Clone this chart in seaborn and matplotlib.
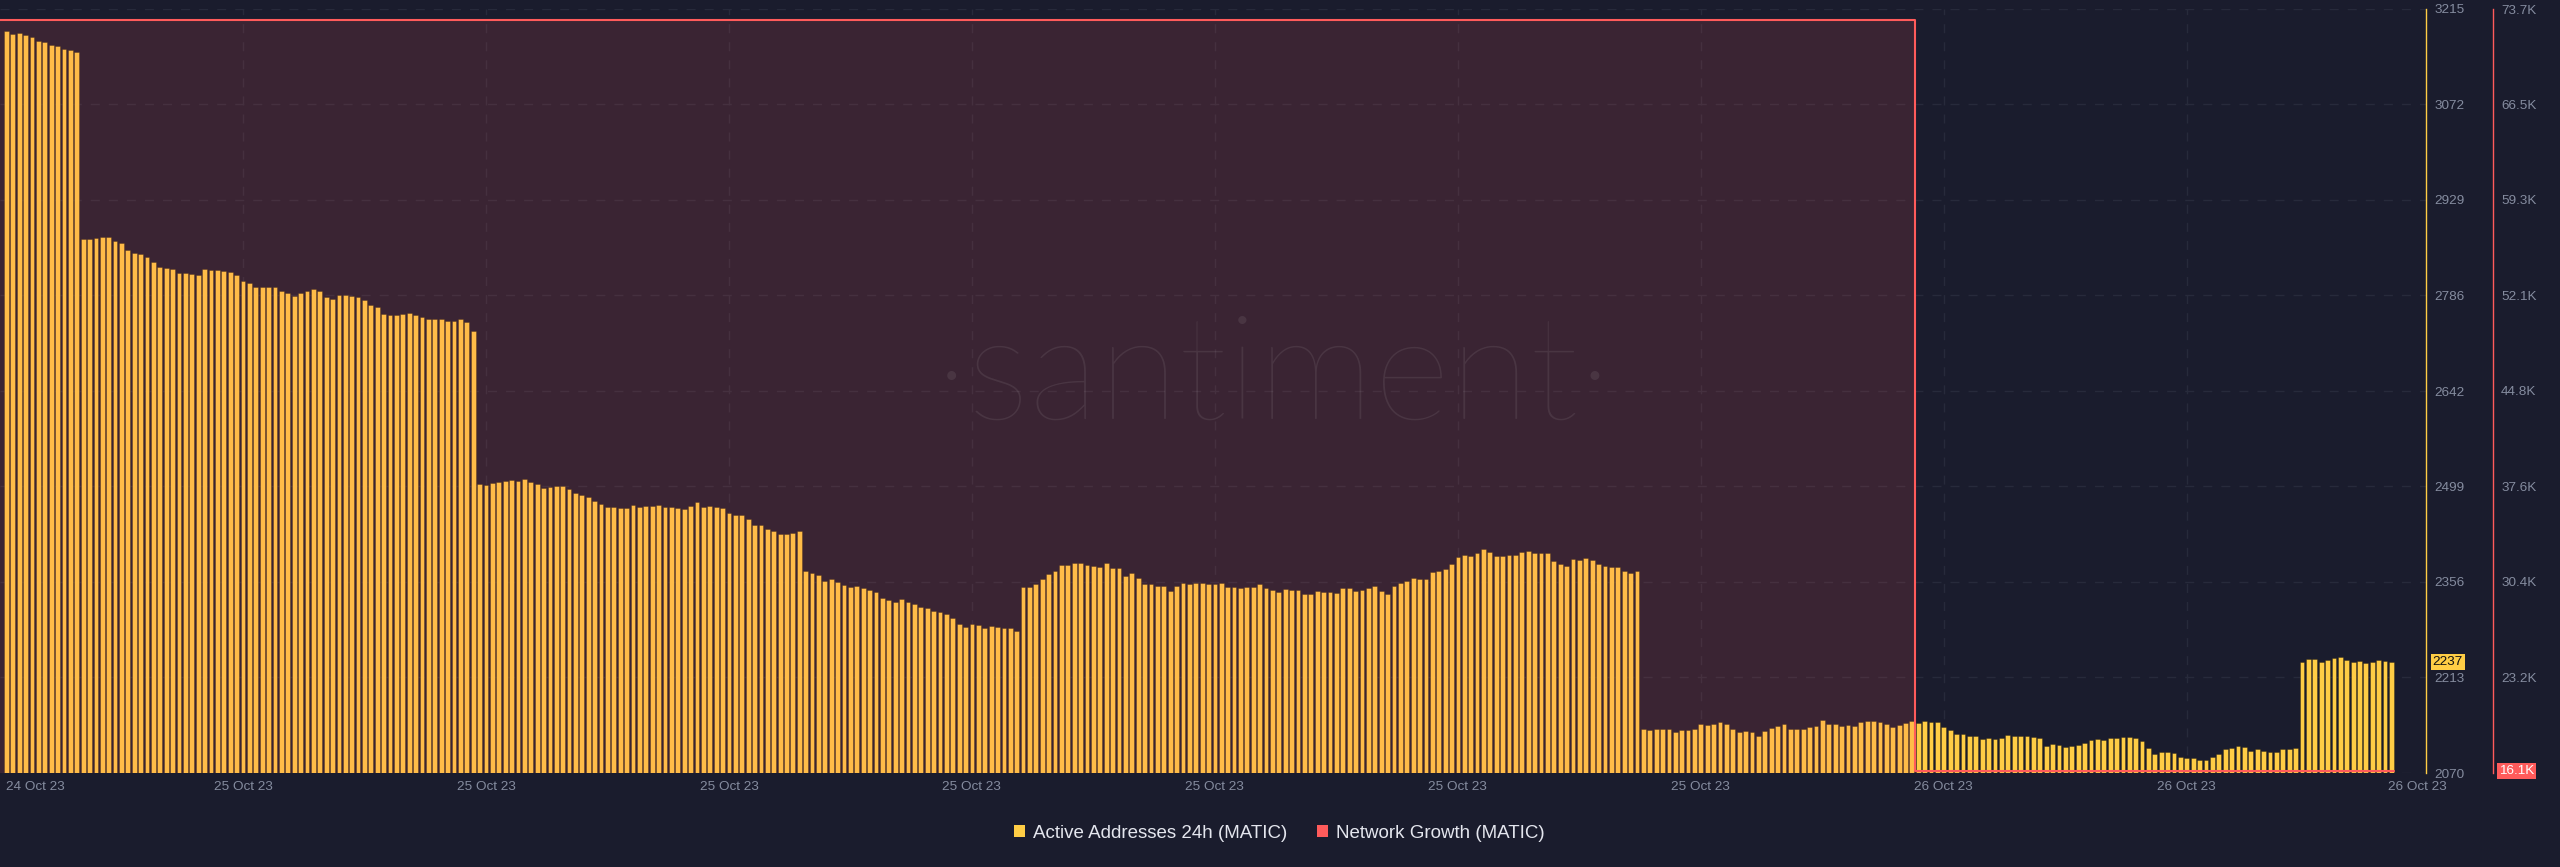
"""
Active Addresses 24h vs Network Growth (MATIC), estilo Santiment oscuro.
Barras horarias de direcciones activas + área de crecimiento de red en eje propio.
"""

import numpy as np
import pandas as pd
import matplotlib
matplotlib.use("Agg")
import matplotlib.pyplot as plt
from matplotlib.patches import Patch
import seaborn as sns

# Valores (una barra por periodo)
active_addresses = [
    3182, 3178, 3179, 3176, 3173, 3167, 3166, 3161, 3160, 3155, 3154, 3151,
    2871, 2870, 2872, 2873, 2874, 2868, 2864, 2854, 2850, 2848, 2844, 2836,
    2829, 2827, 2826, 2820, 2820, 2818, 2816, 2825, 2824, 2824, 2823, 2821,
    2816, 2807, 2804, 2799, 2799, 2799, 2799,
    2792, 2789, 2785, 2789, 2792, 2796, 2792, 2783, 2781, 2787, 2787, 2785,
    2783, 2779, 2771, 2769, 2758, 2756, 2756, 2758, 2760, 2756, 2753, 2750,
    2750, 2750, 2748, 2748, 2750, 2746, 2733,
    2503, 2502, 2504, 2506, 2508, 2509, 2508, 2511, 2506, 2503, 2497, 2498,
    2500, 2500, 2495, 2489, 2487, 2483, 2478, 2473, 2468, 2468, 2467, 2467,
    2471, 2469, 2470, 2470, 2471, 2468, 2469, 2467, 2466, 2470, 2476, 2469,
    2470, 2468, 2467, 2459, 2457, 2456, 2451, 2442, 2441, 2435, 2432, 2428,
    2428, 2430, 2432,
    2373, 2370, 2367, 2358, 2361, 2356, 2352, 2349, 2351, 2347, 2344, 2341,
    2332, 2329, 2326, 2331, 2326, 2324, 2319, 2317, 2313, 2312, 2308, 2303,
    2293, 2289, 2293, 2292, 2287, 2291, 2289, 2288, 2287, 2283,
    2349, 2349, 2354, 2361, 2368, 2373, 2382, 2381, 2384, 2384, 2382, 2380,
    2379, 2384, 2377, 2377, 2365, 2369, 2362, 2353, 2354, 2351, 2350, 2343,
    2351, 2355, 2353, 2355, 2355, 2353, 2354, 2355, 2349, 2349, 2347, 2349,
    2349, 2354, 2348, 2344, 2342, 2346, 2345, 2345,
    2339, 2339, 2343, 2342, 2342, 2340, 2347, 2347, 2343, 2345, 2348, 2350,
    2343, 2339, 2350, 2355, 2357, 2362, 2361, 2361, 2371, 2372, 2375, 2383,
    2393, 2396, 2395, 2399, 2405, 2401, 2395, 2395, 2397, 2397, 2401, 2402,
    2399, 2400, 2400, 2388, 2383, 2380, 2391, 2389, 2392, 2389, 2383, 2380,
    2379, 2379, 2373, 2370, 2373,
    2136, 2134, 2136, 2136, 2136, 2132, 2135, 2135, 2136, 2144, 2142, 2144,
    2146, 2144, 2136, 2131, 2133, 2131, 2126, 2133, 2138, 2140, 2144, 2136,
    2136, 2136, 2139, 2141,
    2150, 2144, 2143, 2140, 2142, 2141, 2146, 2148, 2148, 2147, 2144, 2139,
    2142, 2145, 2148, 2145, 2148, 2147, 2147, 2139, 2134, 2129, 2129, 2125,
    2126, 2121, 2123, 2121, 2123, 2127, 2125, 2126, 2125, 2124, 2123, 2111,
    2114, 2112, 2109, 2110, 2112, 2115, 2120, 2121, 2120, 2123, 2123, 2124,
    2124, 2122, 2118, 2107, 2099, 2101, 2101, 2100, 2094, 2093, 2093, 2090,
    2090, 2094, 2098, 2106, 2108, 2111, 2109, 2103, 2106, 2103, 2102, 2102,
    2106, 2106, 2107,
    2237, 2241, 2241, 2237, 2240, 2243, 2244, 2240, 2236, 2238, 2235, 2237,
    2240, 2238, 2237,
]
# Crecimiento de red: valor diario, alto hasta el 26 Oct y luego cae
network_growth = [72900] * 299 + [16150] * 75

yellow_tick_labels = ["2070", "2213", "2356", "2499", "2642", "2786", "2929", "3072", "3215"]
red_tick_labels = ["23.2K", "30.4K", "37.6K", "44.8K", "52.1K", "59.3K", "66.5K", "73.7K"]
date_labels = ["24 Oct 23"] + ["25 Oct 23"] * 7 + ["26 Oct 23"] * 3
series_names = ["Active Addresses 24h (MATIC)", "Network Growth (MATIC)"]

BG = "#1a1c2d"
YELLOW = "#ffcd45"
RED = "#ff5b5b"
GREY = "#858c9f"
GRID = "#272a3b"

sns.set_theme(style="dark", rc={"axes.facecolor": BG, "figure.facecolor": BG})
plt.rcParams["font.family"] = ["Liberation Sans", "DejaVu Sans"]

n = len(active_addresses)
df = pd.DataFrame({"idx": np.arange(n), "aa": active_addresses, "ng": network_growth})

fig = plt.figure(figsize=(25.6, 8.67), dpi=100, facecolor=BG)
ax = fig.add_axes([0, 94 / 867, 2426 / 2560, 764 / 867])
ax.set_facecolor(BG)

# Barras de direcciones activas
sns.barplot(data=df, x="idx", y="aa", color=YELLOW, saturation=1, width=0.75,
            edgecolor=(0, 0, 0, 0.3), linewidth=0.6, ax=ax)

ax.set_xlim(-1.0, 378.4)
ax.set_ylim(2070, 3215)
ax.set_xlabel("")
ax.set_ylabel("")

# Área de crecimiento de red (eje rojo)
ax2 = ax.twinx()
x_ng = np.arange(n, dtype=float)
x_ng[0] = -1.0
x_ng[-1] = n - 1 + 0.375
ax2.fill_between(x_ng, df["ng"], step="mid", color=RED, alpha=0.14, lw=0)
sns.lineplot(x=x_ng, y=df["ng"].values, drawstyle="steps-mid", color=RED, lw=1.5, ax=ax2)
ax2.set_ylim(16000, 73700)
ax2.set_yticks(np.linspace(16000, 73700, 9)[1:], labels=red_tick_labels)
ax2.tick_params(axis="y", length=0, pad=5.8, labelsize=9.7, labelcolor=GREY)
ax2.set_ylabel("")
ax2.grid(False)
for s in ["left", "top", "bottom"]:
    ax2.spines[s].set_visible(False)
ax2.spines["right"].set_position(("axes", 2493 / 2426))
ax2.spines["right"].set_color(RED)
ax2.spines["right"].set_linewidth(1)

# eje amarillo a la derecha (después de twinx, que lo devuelve a la izquierda)
ax.yaxis.tick_right()
ax.set_yticks(np.linspace(2070, 3215, 9), labels=yellow_tick_labels)
ax.tick_params(axis="y", length=0, pad=5.8, labelsize=9.7, labelcolor=GREY,
               left=False, labelleft=False, right=True, labelright=True)

# una etiqueta de fecha cada 38 barras
tick_pos = [0] + [38 * k - 1 for k in range(1, len(date_labels))]
tick_pos[-1] = 377
ax.set_xticks(tick_pos, labels=date_labels)
ax.tick_params(axis="x", length=0, pad=6, labelsize=9.7, labelcolor=GREY)
ax.get_xticklabels()[0].set_ha("left")

ax.set_axisbelow(True)
ax.grid(True, color=GRID, lw=1, linestyle=(0, (6.5, 6.5)))
gl = ax.get_xgridlines()
gl[0].set_visible(False)
gl[-1].set_visible(False)

for s in ["left", "top", "bottom"]:
    ax.spines[s].set_visible(False)
ax.spines["right"].set_color(YELLOW)
ax.spines["right"].set_linewidth(1)

# Etiquetas del último valor
ax.text(1.0028, active_addresses[-1], str(active_addresses[-1]), transform=ax.get_yaxis_transform(),
        ha="left", va="center", fontsize=9.7, color="#111111",
        bbox=dict(boxstyle="square,pad=0.15", fc=YELLOW, ec="none"), clip_on=False)
ax2.text(2499 / 2426, network_growth[-1], f"{network_growth[-1] / 1000:.1f}K",
         transform=ax2.get_yaxis_transform(), ha="left", va="center", fontsize=9.7, color="white",
         bbox=dict(boxstyle="square,pad=0.15", fc=RED, ec="none"), clip_on=False)

# Marca de agua
fig.text(0.4973, 0.563, "·santiment·", ha="center", va="center", fontsize=106,
         color="white", alpha=0.08, family=["Lato", "DejaVu Sans"], weight="light")

handles = [Patch(fc=YELLOW, ec="none"), Patch(fc=RED, ec="none")]
fig.legend(handles=handles, labels=series_names, loc="center", bbox_to_anchor=(0.4996, 34 / 867),
           ncol=2, frameon=False, fontsize=13.5, labelcolor="#e4e6ee", handlelength=0.6,
           handleheight=0.6, handletextpad=0.4, columnspacing=1.6)

fig.savefig("out.png", dpi=100, facecolor=BG)
